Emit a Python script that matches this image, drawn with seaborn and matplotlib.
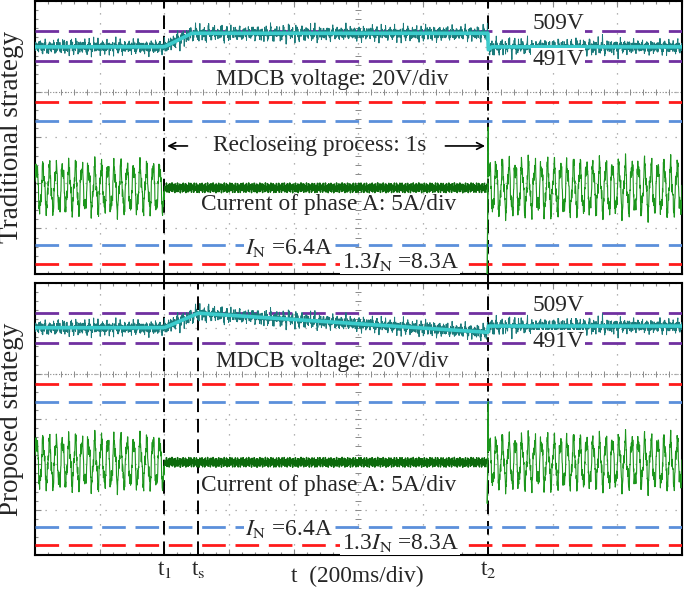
import numpy as np
import pandas as pd
import matplotlib
matplotlib.use('Agg')
import matplotlib.pyplot as plt
import seaborn as sns

sns.set_theme(style='white')
plt.rcParams['font.family'] = ['Liberation Serif', 'DejaVu Serif']
plt.rcParams['mathtext.fontset'] = 'stix'

# time axis: 10 divisions of 200 ms
X_SPAN = [0, 2000]
T1, TS, T2 = 400, 505, 1400

# MDCB voltage envelope read from the scope (V)
trad_v_time = [0, 400, 485, 1400, 1401, 1412, 2000]
trad_v_level = [499.6, 499.6, 507.8, 507.8, 497.8, 499.6, 499.6]
prop_v_time = [0, 400, 505, 1400, 1401, 2000]
prop_v_level = [500.2, 500.2, 509.0, 497.4, 501.2, 501.2]
v_ripple = 2.4
v_lines = [509, 491]

# phase A current (A), 50 Hz
grid_freq = 50.0
trad_i_amp = [3.0, 0.45, 3.2]     # before t1 / reclosing / after t2
prop_i_amp = [3.1, 0.45, 3.1]
trad_i_offset = -0.7
prop_i_offset = 0.3
trad_i_spike = [-12.8, 8.8]
prop_i_spike = [-6.0, 8.8]
in_peak = [9.05, -9.05]          # I_N = 6.4 A rms
max_peak = [11.74, -11.74]       # 1.3 I_N = 8.3 A rms

V_LIM = (362.4, 527.3)
I_LIM = (-13.2, 26.4)

TEAL_DARK = '#1a7a7a'
TEAL = '#3ccccc'
GREEN = '#1c961c'
GREEN_DARK = '#0c6a0c'
PURPLE = '#7030a0'
RED = '#ff1a1a'
BLUE = '#5b8fdb'


def voltage_trace(bp_t, bp_v):
    t = np.arange(0, 2000, 0.7)
    mean = np.interp(t, bp_t, bp_v)
    ripple = v_ripple * (0.7 * np.sin(2 * np.pi * 0.613 * t) + 0.5 * np.sin(2 * np.pi * 1.937 * t + 1.0)
                         + 1.5 * np.sin(2 * np.pi * 0.0731 * t) ** 15
                         - 1.0 * np.sin(2 * np.pi * 0.0517 * t + 0.4) ** 21)
    return pd.DataFrame({'t': t, 'v': mean + ripple, 'm': mean})


def current_trace(amps, offset, spike):
    t = np.arange(0, 2000, 0.55)
    seg = np.select([t < T1, t < T2], [0, 1], 2)
    amp = np.array(amps)[seg]
    w = 2 * np.pi * grid_freq * t / 1000
    ac = (np.sin(w) + 0.28 * np.sin(2.73 * w + 0.3) + 0.18 * np.sin(7.9 * w + 0.7)
          + 0.12 * np.sin(13.3 * w + 1.9))
    fuzz = np.sin(2 * np.pi * 0.291 * t) + 0.6 * np.sin(2 * np.pi * 0.173 * t)
    i = offset + amp * np.where(seg == 1, fuzz, ac)
    before = t < T2
    tt = np.concatenate([t[before], [T2 - 2, T2 + 1], t[~before]])
    ii = np.concatenate([i[before], [offset + spike[0], offset + spike[1]], i[~before]])
    return pd.DataFrame({'t': tt, 'i': ii})


def draw_panel(ax, v_bp, amps, offset, spike, show_ts):
    # scope grid in divisions
    ax.set_xlim(X_SPAN)
    ax.set_ylim(0, 6)
    ax.set_xticks(np.arange(0, 2001, 200))
    ax.set_yticks(np.arange(0, 7, 1))
    ax.set_xticks(np.arange(0, 2001, 40), minor=True)
    ax.set_yticks(np.arange(0, 6.01, 0.2), minor=True)
    ax.set_xticklabels([])
    ax.set_yticklabels([])
    ax.grid(True, which='major', color='#9a9a9a', linestyle=(0, (1, 7)), linewidth=0.9)
    ax.tick_params(which='both', direction='in', top=True, right=True, bottom=True, left=True,
                   colors='#888888', width=0.8)
    ax.tick_params(which='major', length=4)
    ax.tick_params(which='minor', length=2.5)
    for s in ax.spines.values():
        s.set_color('black')
        s.set_linewidth(1.5)
    minor_x = np.arange(0, 2001, 40)
    ax.plot(minor_x, np.full_like(minor_x, 4.0, dtype=float), ls=':', color='#8a8a8a', lw=0.8,
            marker='|', ms=4, mew=0.7)
    minor_y = np.arange(0, 6.01, 0.2)
    ax.plot(np.full_like(minor_y, 1000.0), minor_y, ls='none', color='#8a8a8a',
            marker='_', ms=4, mew=0.7)

    ax_v = ax.twinx()
    ax_i = ax.twinx()
    for a, lim in ((ax_v, V_LIM), (ax_i, I_LIM)):
        a.set_ylim(lim)
        a.set_yticks([])
        a.grid(False)
        for s in a.spines.values():
            s.set_visible(False)

    for lv in v_lines:
        ax_v.axhline(lv, color=PURPLE, lw=2, dashes=(8.5, 3.5))
    for lv in max_peak:
        ax_i.axhline(lv, color=RED, lw=2, dashes=(8.5, 3.5))
    for lv in in_peak:
        ax_i.axhline(lv, color=BLUE, lw=2, dashes=(8.5, 3.5))

    vdf = voltage_trace(*v_bp)
    sns.lineplot(data=vdf, x='t', y='v', ax=ax_v, color=TEAL_DARK, lw=0.7,
                 estimator=None, sort=False, errorbar=None)
    sns.lineplot(data=vdf, x='t', y='m', ax=ax_v, color=TEAL, lw=2.6,
                 estimator=None, sort=False, errorbar=None)
    idf = current_trace(amps, offset, spike)
    sns.lineplot(data=idf, x='t', y='i', ax=ax_i, color=GREEN, lw=0.8,
                 estimator=None, sort=False, errorbar=None)
    flat = idf[(idf['t'] > T1) & (idf['t'] < T2 - 3)]
    sns.lineplot(data=flat, x='t', y='i', ax=ax_i, color=GREEN_DARK, lw=1.0,
                 estimator=None, sort=False, errorbar=None)
    ax_i.set_xlabel('')
    ax_v.set_ylabel('')
    ax_i.set_ylabel('')

    for tx in (T1, T2):
        ax.axvline(tx, color='black', lw=1.4, dashes=(7, 3.5), zorder=5)
    if show_ts:
        ax.axvline(TS, color='black', lw=1.4, dashes=(7, 3.5), zorder=5)

    tr = ax_i.get_xaxis_transform()
    kw = dict(transform=tr, fontsize=16.8, ha='center', va='center', zorder=10)
    box = dict(facecolor='white', edgecolor='none', pad=1.0)
    ax_i.text(1617, 0.916, '509V', bbox=box, **kw)
    ax_i.text(1617, 0.785, '491V', bbox=box, **kw)
    ax_i.text(918, 0.712, 'MDCB voltage: 20V/div', **kw)
    ax_i.text(909, 0.256, 'Current of phase A: 5A/div', **kw)
    ax_i.text(785, 0.095, r'$I_{\rm N}$ =6.4A', bbox=box, **kw)
    ax_i.text(1128, 0.044, r'1.3$I_{\rm N}$ =8.3A', bbox=box, **kw)
    return ax_i


fig = plt.figure(figsize=(6.85, 5.9), dpi=100)
ax_top = fig.add_axes([0.0511, 0.5356, 0.9445, 0.4627])
ax_bot = fig.add_axes([0.0511, 0.0593, 0.9445, 0.461])

ai_top = draw_panel(ax_top, (trad_v_time, trad_v_level), trad_i_amp, trad_i_offset, trad_i_spike, False)
ai_bot = draw_panel(ax_bot, (prop_v_time, prop_v_level), prop_i_amp, prop_i_offset, prop_i_spike, True)

# reclosing arrows
tr = ai_top.get_xaxis_transform()
ai_top.text(881, 0.469, 'Recloseing process: 1s', transform=tr, fontsize=16.8,
            ha='center', va='center', zorder=10)
ai_top.annotate('', xy=(T1, 0.469), xytext=(480, 0.469), xycoords=tr, textcoords=tr,
                arrowprops=dict(arrowstyle='->', color='black', lw=1.2))
ai_top.annotate('', xy=(T2, 0.469), xytext=(1260, 0.469), xycoords=tr, textcoords=tr,
                arrowprops=dict(arrowstyle='->', color='black', lw=1.2))

# connect t1/t2 markers through the gap between panels
for tx in (T1, T2):
    ax_bot.axvline(tx, ymin=1.0, ymax=1.04, color='black', lw=1.4, dashes=(7, 3.5), clip_on=False)

trb = ax_bot.get_xaxis_transform()
for tx, lab in ((T1, r't$_1$'), (TS, r't$_{\rm s}$'), (T2, r't$_2$')):
    ax_bot.text(tx, -0.055, lab, transform=trb, fontsize=16.8, ha='center', va='center')
ax_bot.text(995, -0.077, 't  (200ms/div)', transform=trb, fontsize=16.8, ha='center', va='center')

fig.text(0.0175, 0.768, 'Traditional strategy', rotation=90, fontsize=19.5, ha='center', va='center')
fig.text(0.0175, 0.290, 'Proposed strategy', rotation=90, fontsize=19.5, ha='center', va='center')

fig.savefig('out.png', dpi=100, facecolor='white')
